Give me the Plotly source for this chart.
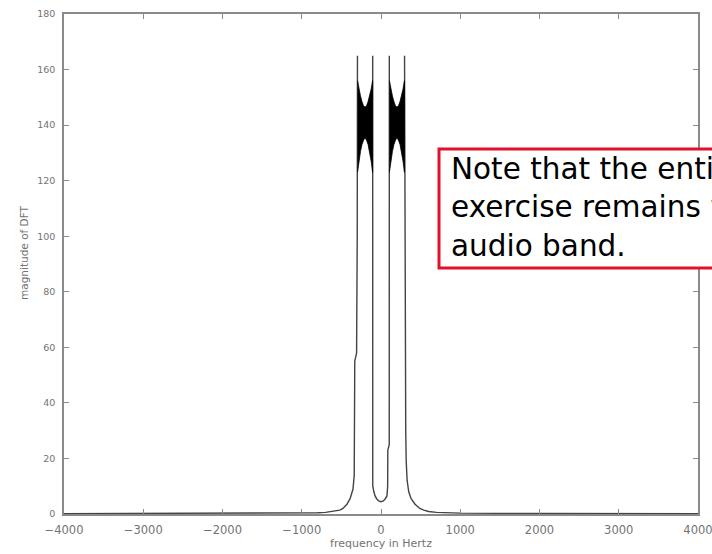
import plotly.graph_objects as go

# Magnitude of the DFT of a swept tone, frequency axis in Hz.
# Left skirt rising into the outer edge of the negative-frequency lobe
skirt_left_f = [-4000, -2000, -1000, -800, -700, -600, -520, -480, -430, -390, -353, -338, -334, -331, -308, -300, -297]
skirt_left_m = [0.1, 0.2, 0.3, 0.45, 0.6, 0.9, 1.4, 2.0, 3.5, 5.5, 9.0, 14.0, 30.0, 55.0, 58.0, 100.0, 165.0]

# Inner edges of both lobes and the dip around 0 Hz
inner_f = [-105, -106, -108, -104, -90, -75, -55, -30, 0, 30, 55, 75, 84, 86, 104, 105]
inner_m = [165.0, 40.0, 14.0, 10.0, 8.0, 6.5, 5.5, 4.7, 4.4, 4.7, 5.5, 6.5, 10.0, 23.0, 25.0, 165.0]

# Outer edge of the positive-frequency lobe falling into the right skirt
skirt_right_f = [297, 300, 306, 312, 318, 330, 350, 380, 430, 490, 540, 600, 700, 800, 1000, 2000, 4000]
skirt_right_m = [165.0, 100.0, 60.0, 30.0, 19.0, 12.0, 8.0, 5.5, 3.5, 2.0, 1.4, 0.9, 0.6, 0.45, 0.3, 0.2, 0.1]

# Envelopes of the densely oscillating pass-band of each lobe
lobe_left_f = [-296, -278, -259, -240, -221, -201, -182, -163, -144, -124, -106]
lobe_right_f = [106, 124, 144, 163, 182, 201, 221, 240, 259, 278, 296]
lobe_left_upper = [156.0, 153.0, 150.5, 148.5, 147.0, 146.5, 147.0, 148.5, 150.5, 153.0, 156.0]
lobe_left_lower = [123.0, 127.0, 130.5, 133.0, 134.5, 135.5, 134.5, 133.0, 130.5, 127.0, 123.0]
lobe_right_upper = [156.0, 153.0, 150.5, 148.5, 147.0, 146.5, 147.0, 148.5, 150.5, 153.0, 156.0]
lobe_right_lower = [123.0, 127.0, 130.5, 133.0, 134.5, 135.5, 134.5, 133.0, 130.5, 127.0, 123.0]

x_ticks = [-4000, -3000, -2000, -1000, 0, 1000, 2000, 3000, 4000]
y_ticks = [0, 20, 40, 60, 80, 100, 120, 140, 160, 180]

note_text = "Note that the entire<br>exercise remains within the<br>audio band."

W, H = 712, 554
ML, MR, MT, MB = 64, 14, 14, 40
PW, PH = W - ML - MR, H - MT - MB


def px_x(px):
    return (px - ML) / PW


def px_y(py):
    return (H - MB - py) / PH


fig = go.Figure()

outline_x = skirt_left_f + [None] + inner_f + [None] + skirt_right_f
outline_y = skirt_left_m + [None] + inner_m + [None] + skirt_right_m
fig.add_trace(go.Scatter(
    x=outline_x, y=outline_y, mode="lines",
    line=dict(color="#444444", width=1.4),
    connectgaps=False, hoverinfo="skip", showlegend=False,
))

for f, up, lo in ((lobe_left_f, lobe_left_upper, lobe_left_lower),
                  (lobe_right_f, lobe_right_upper, lobe_right_lower)):
    fig.add_trace(go.Scatter(
        x=f + f[::-1], y=up + lo[::-1], mode="lines", fill="toself",
        fillcolor="black", line=dict(color="black", width=0.8),
        hoverinfo="skip", showlegend=False,
    ))

axis_common = dict(
    showline=True, linecolor="#8a8a8a", linewidth=1.6, mirror="ticks",
    ticks="inside", ticklen=5, tickwidth=1.2, tickcolor="#8a8a8a",
    showgrid=False, zeroline=False,
)

fig.update_layout(
    width=W, height=H,
    margin=dict(l=ML, r=MR, t=MT, b=MB, autoexpand=False),
    paper_bgcolor="white", plot_bgcolor="white",
    xaxis=dict(
        range=[-4000, 4000], tickvals=x_ticks,
        ticklabeloverflow="allow", ticklabelstandoff=4,
        tickfont=dict(family="DejaVu Sans", size=11.5, color="#737373"),
        title=dict(text="frequency in Hertz", standoff=4,
                   font=dict(family="DejaVu Sans", size=11, color="#737373")),
        **axis_common,
    ),
    yaxis=dict(
        range=[0, 180], tickvals=y_ticks, ticklabelstandoff=5,
        tickfont=dict(family="DejaVu Sans", size=9.5, color="#737373"),
        **axis_common,
    ),
    shapes=[dict(
        type="rect", xref="paper", yref="paper", layer="above",
        x0=px_x(439), x1=px_x(740), y0=px_y(268), y1=px_y(149),
        line=dict(color="#e3102c", width=3), fillcolor="white",
    )],
    annotations=[
        dict(
            text="magnitude of DFT", xref="paper", yref="paper",
            x=px_x(24), y=px_y(253), xanchor="center", yanchor="middle",
            textangle=-90, showarrow=False,
            font=dict(family="DejaVu Sans", size=10.5, color="#737373"),
        ),
        dict(
            text=note_text, xref="paper", yref="paper",
            x=px_x(449), y=px_y(150), xanchor="left", yanchor="top",
            align="left", showarrow=False,
            font=dict(family="Comic Sans MS, DejaVu Sans, sans-serif", size=29.5, color="black"),
        ),
    ],
)

fig.write_html("out.html")
